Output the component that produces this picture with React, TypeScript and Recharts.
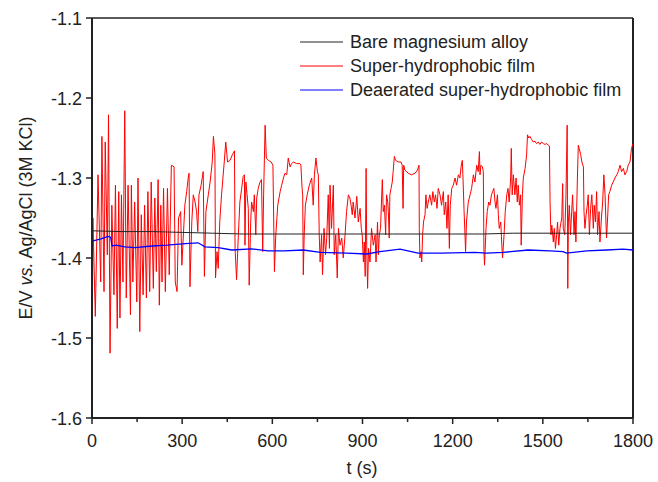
import React from "react";
import { LineChart, Line, XAxis, YAxis, ReferenceLine, Legend } from "recharts";

// Open-circuit potential vs time (s)
const bareT = [0, 100, 200, 300, 400, 500, 600, 700, 800, 900, 1000, 1100, 1200, 1300, 1400, 1500, 1600, 1700, 1800];
const bareE = [-1.366, -1.367, -1.367, -1.368, -1.369, -1.37, -1.37, -1.37, -1.37, -1.37, -1.37, -1.37, -1.37, -1.37, -1.369, -1.369, -1.369, -1.369, -1.369];

const superT = [
  0, 3, 11, 20, 29, 33, 40, 44, 51, 55, 60, 66, 73, 78, 84, 89, 93, 98, 103, 109,
  114, 120, 128, 131, 136, 142, 149, 153, 159, 164, 170, 175, 181, 186, 192, 197, 204, 209, 214, 220,
  224, 229, 233, 238, 244, 251, 257, 264, 273, 277, 283, 288, 295, 299,
  309, 315, 320, 323, 326, 332, 337, 343, 348, 352, 356, 363, 370, 374, 379, 387, 393, 400, 404, 409,
  411, 416, 420, 425, 431, 440, 445, 451, 459, 467, 474, 476, 481, 487, 492, 498, 503, 507, 509, 512,
  516, 520, 523, 528, 531, 537, 540, 545, 548, 553, 559, 564, 568, 571, 576, 580, 587, 596, 602, 607,
  611, 618,
  626, 631, 637, 642, 648, 653, 659, 664, 670, 681, 692, 695, 699, 701, 703, 706, 710, 716, 723, 731,
  736, 740, 745, 750, 753, 756, 759, 764, 767, 772, 777, 781, 786, 790, 792, 797, 803, 806, 811, 816,
  820, 825, 831, 836, 842, 847, 853, 858, 862, 866, 869, 875, 881, 886, 892, 896, 899, 903, 906, 909,
  912, 914, 917, 920, 925, 930, 936,
  942, 945, 950, 953, 956, 960, 964, 966, 969, 973, 977, 980, 984, 986, 989, 991, 995, 999, 1002, 1006,
  1010, 1019, 1028, 1032, 1035, 1037, 1041, 1052, 1063, 1075, 1083, 1088, 1089, 1091, 1095, 1097, 1100, 1103, 1108, 1111,
  1115, 1119, 1124, 1130, 1134, 1139, 1143, 1148, 1152, 1158, 1163, 1169, 1172, 1177, 1181, 1185, 1189, 1192, 1197, 1202,
  1208, 1213, 1219, 1224, 1228, 1232, 1234, 1238, 1241, 1243, 1246, 1252,
  1258, 1263, 1269, 1274, 1280, 1285, 1289, 1291, 1294, 1299, 1302, 1304, 1306, 1311, 1315, 1320, 1324, 1329, 1333, 1337,
  1341, 1344, 1349, 1352, 1355, 1360, 1363, 1366, 1371, 1375, 1380, 1384, 1388, 1393, 1395, 1398, 1402, 1407, 1411, 1415,
  1418, 1422, 1426, 1428, 1432, 1435, 1441, 1446, 1449, 1453, 1457, 1463, 1468, 1474, 1479, 1485, 1490, 1496, 1502, 1507,
  1513, 1518, 1522, 1524, 1527, 1530, 1535, 1538, 1542, 1546, 1549, 1553,
  1557, 1563, 1566, 1568, 1573, 1577, 1581, 1583, 1585, 1588, 1592, 1596, 1599, 1604, 1607, 1610, 1615, 1618, 1621, 1626,
  1630, 1635, 1637, 1640, 1644, 1648, 1651, 1655, 1659, 1663, 1668, 1671, 1675, 1679, 1682, 1687, 1690, 1695, 1699, 1703,
  1707, 1710, 1712, 1716, 1719, 1723, 1729, 1734, 1740, 1746, 1751, 1757, 1762, 1768, 1773, 1779, 1784, 1790, 1795, 1800,
];
const superE = [
  -1.555, -1.35, -1.473, -1.296, -1.43, -1.248, -1.442, -1.255, -1.396, -1.221, -1.519, -1.334, -1.446, -1.309, -1.488, -1.317, -1.475, -1.321, -1.43, -1.216,
  -1.45, -1.309, -1.471, -1.309, -1.43, -1.33, -1.455, -1.3, -1.492, -1.346, -1.446, -1.334, -1.45, -1.317, -1.442, -1.305, -1.438, -1.325, -1.417, -1.302,
  -1.459, -1.334, -1.43, -1.313, -1.442, -1.313, -1.421, -1.284, -1.286, -1.43, -1.442, -1.35, -1.342, -1.409,
  -1.334, -1.317, -1.3, -1.294, -1.436, -1.355, -1.321, -1.33, -1.342, -1.367, -1.321, -1.309, -1.292, -1.423, -1.342, -1.321, -1.305, -1.28, -1.248, -1.271,
  -1.425, -1.392, -1.413, -1.355, -1.321, -1.28, -1.255, -1.28, -1.278, -1.271, -1.266, -1.388, -1.427, -1.371, -1.33, -1.313, -1.298, -1.296, -1.384, -1.305,
  -1.321, -1.338, -1.434, -1.355, -1.33, -1.342, -1.321, -1.371, -1.325, -1.313, -1.305, -1.302, -1.392, -1.321, -1.234, -1.275, -1.278, -1.28, -1.284, -1.417,
  -1.375, -1.334,
  -1.317, -1.309, -1.3, -1.294, -1.296, -1.275, -1.286, -1.282, -1.28, -1.282, -1.282, -1.284, -1.313, -1.321, -1.421, -1.371, -1.334, -1.321, -1.309, -1.3,
  -1.334, -1.296, -1.275, -1.292, -1.296, -1.371, -1.405, -1.371, -1.421, -1.363, -1.396, -1.375, -1.321, -1.388, -1.309, -1.363, -1.309, -1.396, -1.371, -1.425,
  -1.363, -1.384, -1.375, -1.4, -1.371, -1.342, -1.321, -1.325, -1.334, -1.346, -1.33, -1.35, -1.323, -1.355, -1.338, -1.363, -1.371, -1.405, -1.38, -1.423,
  -1.288, -1.384, -1.438, -1.388, -1.405, -1.363, -1.384,
  -1.371, -1.405, -1.355, -1.396, -1.371, -1.363, -1.321, -1.302, -1.342, -1.334, -1.371, -1.321, -1.33, -1.342, -1.375, -1.321, -1.313, -1.305, -1.292, -1.273,
  -1.278, -1.28, -1.28, -1.284, -1.338, -1.284, -1.29, -1.294, -1.296, -1.294, -1.29, -1.284, -1.363, -1.4, -1.392, -1.405, -1.371, -1.355, -1.346, -1.321,
  -1.338, -1.33, -1.321, -1.334, -1.317, -1.33, -1.321, -1.338, -1.313, -1.321, -1.334, -1.317, -1.346, -1.33, -1.363, -1.321, -1.388, -1.334, -1.313, -1.309,
  -1.3, -1.309, -1.296, -1.3, -1.286, -1.278, -1.296, -1.342, -1.371, -1.392, -1.355, -1.33,
  -1.321, -1.313, -1.296, -1.305, -1.284, -1.292, -1.267, -1.296, -1.284, -1.286, -1.292, -1.392, -1.409, -1.363, -1.342, -1.33, -1.334, -1.321, -1.317, -1.313,
  -1.33, -1.338, -1.321, -1.346, -1.363, -1.355, -1.38, -1.4, -1.371, -1.342, -1.321, -1.313, -1.33, -1.3, -1.263, -1.321, -1.296, -1.321, -1.3, -1.33,
  -1.309, -1.334, -1.321, -1.384, -1.321, -1.3, -1.288, -1.271, -1.246, -1.25, -1.248, -1.252, -1.255, -1.254, -1.257, -1.255, -1.258, -1.255, -1.257, -1.258,
  -1.257, -1.259, -1.26, -1.33, -1.371, -1.359, -1.38, -1.363, -1.388, -1.371, -1.355, -1.384,
  -1.363, -1.35, -1.307, -1.363, -1.371, -1.321, -1.234, -1.438, -1.355, -1.334, -1.371, -1.342, -1.321, -1.371, -1.342, -1.38, -1.3, -1.259, -1.263, -1.271,
  -1.28, -1.286, -1.342, -1.363, -1.346, -1.334, -1.321, -1.371, -1.338, -1.321, -1.363, -1.334, -1.355, -1.317, -1.371, -1.342, -1.38, -1.35, -1.33, -1.296,
  -1.321, -1.355, -1.375, -1.346, -1.321, -1.317, -1.309, -1.305, -1.3, -1.296, -1.292, -1.284, -1.292, -1.288, -1.296, -1.292, -1.284, -1.28, -1.263, -1.257,
];

const deaeratedT = [0, 30, 53, 62, 67, 80, 110, 142, 200, 250, 310, 353, 376, 420, 465, 531, 586, 640, 703, 760, 847, 914, 958, 1025, 1085, 1163, 1274, 1313, 1368, 1451, 1524, 1567, 1579, 1646, 1712, 1767, 1800];
const deaeratedE = [-1.379, -1.376, -1.373, -1.374, -1.385, -1.384, -1.386, -1.387, -1.385, -1.384, -1.382, -1.381, -1.386, -1.387, -1.39, -1.3885, -1.391, -1.391, -1.39, -1.393, -1.394, -1.395, -1.392, -1.389, -1.394, -1.394, -1.393, -1.394, -1.393, -1.39, -1.391, -1.392, -1.394, -1.391, -1.39, -1.389, -1.39];

const xTicks = [0, 150, 300, 450, 600, 750, 900, 1050, 1200, 1350, 1500, 1650, 1800];
const yTicks = [-1.6, -1.5, -1.4, -1.3, -1.2, -1.1];

const seriesNames = ["Bare magnesium alloy", "Super-hydrophobic film", "Deaerated super-hydrophobic film"];
const seriesColors = ["#222222", "#ff0000", "#0000ff"];

const FONT = "'Liberation Sans', Arial, sans-serif";
const INK = "#222";

const pairs = (ts: number[], es: number[]) =>
  ts.slice(0, Math.min(ts.length, es.length)).map((t, i) => ({ t, e: es[i] }));

const bareData = pairs(bareT, bareE);
const superData = pairs(superT, superE);
const deaeratedData = pairs(deaeratedT, deaeratedE);

const XTick = (props: any) => {
  const { x, y, payload } = props;
  const major = payload.value % 300 === 0;
  return (
    <g>
      <line x1={x} x2={x} y1={y} y2={y + (major ? 6 : 4)} stroke={INK} strokeWidth={1.5} />
      {major && (
        <text x={x} y={y + 29} textAnchor="middle" fontSize={18} fontFamily={FONT} fill={INK}>
          {payload.value}
        </text>
      )}
    </g>
  );
};

const YTick = (props: any) => {
  const { x, y, payload } = props;
  return (
    <g>
      <line x1={x - 6} x2={x} y1={y} y2={y} stroke={INK} strokeWidth={1.5} />
      <text x={x - 10} y={y + 6.5} textAnchor="end" fontSize={18} fontFamily={FONT} fill={INK}>
        {payload.value.toFixed(1)}
      </text>
    </g>
  );
};

const LegendBox = () => (
  <div style={{ fontFamily: FONT, fontSize: 18, color: INK }}>
    {seriesNames.map((name, i) => (
      <div key={name} style={{ height: 24, lineHeight: "24px", display: "flex", alignItems: "center", whiteSpace: "nowrap" }}>
        <svg width={50} height={24} style={{ flex: "none" }}>
          <line x1={0} x2={43} y1={12} y2={12} stroke={seriesColors[i]} strokeWidth={1} />
        </svg>
        <span>{name}</span>
      </div>
    ))}
  </div>
);

export default function App() {
  return (
    <div style={{ position: "absolute", left: 0, top: 0, background: "#fff" }}>
      <LineChart width={658} height={482} margin={{ top: 18, right: 25, bottom: 34, left: 32 }}>
        <XAxis
          dataKey="t"
          type="number"
          domain={[0, 1800]}
          ticks={xTicks}
          interval={0}
          tickSize={0}
          tickMargin={0}
          tickLine={false}
          tick={<XTick />}
          height={30}
          axisLine={{ stroke: INK, strokeWidth: 2 }}
          allowDataOverflow
        />
        <YAxis
          type="number"
          domain={[-1.6, -1.1]}
          ticks={yTicks}
          interval={0}
          tickSize={0}
          tickMargin={0}
          tickLine={false}
          tick={<YTick />}
          width={60}
          axisLine={{ stroke: INK, strokeWidth: 2 }}
          allowDataOverflow
        />
        <ReferenceLine y={-1.1} stroke={INK} strokeWidth={1.5} />
        <ReferenceLine x={1800} stroke={INK} strokeWidth={2} />
        <Line data={superData} dataKey="e" name={seriesNames[1]} stroke={seriesColors[1]} strokeWidth={1} dot={false} isAnimationActive={false} />
        <Line data={bareData} dataKey="e" name={seriesNames[0]} stroke={seriesColors[0]} strokeWidth={1} dot={false} isAnimationActive={false} />
        <Line data={deaeratedData} dataKey="e" name={seriesNames[2]} stroke={seriesColors[2]} strokeWidth={1.3} dot={false} isAnimationActive={false} />
        <Legend
          layout="vertical"
          align="center"
          verticalAlign="middle"
          content={<LegendBox />}
          wrapperStyle={{ top: 30, left: 300, width: 340, height: 72 }}
        />
      </LineChart>
      <svg width={658} height={482} style={{ position: "absolute", left: 0, top: 0, pointerEvents: "none" }}>
        <text
          x={32}
          y={218}
          transform="rotate(-90 32 218)"
          textAnchor="middle"
          fontSize={18}
          fontFamily={FONT}
          fill={INK}
        >
          E/V <tspan fontStyle="italic">vs.</tspan> Ag/AgCl (3M KCl)
        </text>
        <text x={362} y={474} textAnchor="middle" fontSize={18} fontFamily={FONT} fill={INK}>
          t (s)
        </text>
      </svg>
    </div>
  );
}
